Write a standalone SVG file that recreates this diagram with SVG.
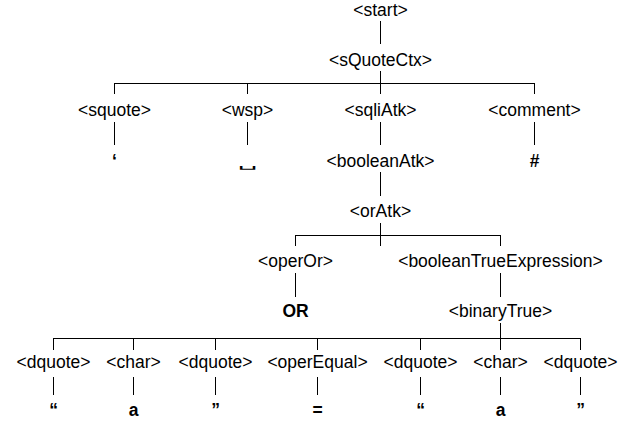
<svg xmlns="http://www.w3.org/2000/svg" width="638" height="422" viewBox="0 0 638 422">
<style>
text{font-family:"Liberation Sans",Arial,Helvetica,sans-serif;font-size:17.5px;text-anchor:middle;fill:#000}
.b{font-weight:bold}
.sym{font-family:"DejaVu Sans","Liberation Sans",sans-serif;font-weight:normal;font-size:30px}
#connectors line{stroke:#000;stroke-width:1;fill:none}
</style>
<rect width="638" height="422" fill="#fff"/>
<g id="connectors">
<line x1="380.5" y1="21" x2="380.5" y2="44"/>
<line x1="380.5" y1="71" x2="380.5" y2="94"/>
<line x1="114.5" y1="83.5" x2="534.5" y2="83.5"/>
<line x1="114.5" y1="83" x2="114.5" y2="94"/>
<line x1="247.5" y1="83" x2="247.5" y2="94"/>
<line x1="534.5" y1="83" x2="534.5" y2="94"/>
<line x1="114.5" y1="122" x2="114.5" y2="145"/>
<line x1="247.5" y1="122" x2="247.5" y2="145"/>
<line x1="380.5" y1="122" x2="380.5" y2="145"/>
<line x1="534.5" y1="122" x2="534.5" y2="145"/>
<line x1="380.5" y1="172" x2="380.5" y2="196"/>
<line x1="380.5" y1="223" x2="380.5" y2="246"/>
<line x1="295.5" y1="235.5" x2="500.5" y2="235.5"/>
<line x1="295.5" y1="235" x2="295.5" y2="246"/>
<line x1="500.5" y1="235" x2="500.5" y2="246"/>
<line x1="295.5" y1="273" x2="295.5" y2="297"/>
<line x1="500.5" y1="273" x2="500.5" y2="297"/>
<line x1="500.5" y1="323" x2="500.5" y2="350"/>
<line x1="53.5" y1="338.5" x2="580.5" y2="338.5"/>
<line x1="53.5" y1="338" x2="53.5" y2="350"/>
<line x1="133.5" y1="338" x2="133.5" y2="350"/>
<line x1="215.5" y1="338" x2="215.5" y2="350"/>
<line x1="317.5" y1="338" x2="317.5" y2="350"/>
<line x1="420.5" y1="338" x2="420.5" y2="350"/>
<line x1="580.5" y1="338" x2="580.5" y2="350"/>
<line x1="53.5" y1="377" x2="53.5" y2="395"/>
<line x1="133.5" y1="377" x2="133.5" y2="395"/>
<line x1="215.5" y1="377" x2="215.5" y2="395"/>
<line x1="317.5" y1="377" x2="317.5" y2="395"/>
<line x1="420.5" y1="377" x2="420.5" y2="395"/>
<line x1="500.5" y1="377" x2="500.5" y2="395"/>
<line x1="580.5" y1="377" x2="580.5" y2="395"/>
</g>
<g id="n-start"><text x="380.5" y="16">&lt;start&gt;</text></g>
<g id="n-sQuoteCtx"><text x="380.5" y="66">&lt;sQuoteCtx&gt;</text></g>
<g id="n-squote"><text x="114.5" y="116">&lt;squote&gt;</text></g>
<g id="n-wsp"><text x="247.5" y="116">&lt;wsp&gt;</text></g>
<g id="n-sqliAtk"><text x="380.5" y="116">&lt;sqliAtk&gt;</text></g>
<g id="n-comment"><text x="534.5" y="116">&lt;comment&gt;</text></g>
<g id="l-squote"><text class="b" x="114.5" y="167">‘</text></g>
<g id="l-wsp"><text class="sym" transform="translate(247,167) scale(1,0.38)" x="0" y="0">␣</text></g>
<g id="n-booleanAtk"><text x="380.5" y="167">&lt;booleanAtk&gt;</text></g>
<g id="l-comment"><text class="b" x="534.5" y="167">#</text></g>
<g id="n-orAtk"><text x="380.5" y="217">&lt;orAtk&gt;</text></g>
<g id="n-operOr"><text x="295.5" y="267">&lt;operOr&gt;</text></g>
<g id="n-booleanTrueExpression"><text x="500.5" y="267">&lt;booleanTrueExpression&gt;</text></g>
<g id="l-OR"><text class="b" x="295.5" y="317">OR</text></g>
<g id="n-binaryTrue"><text x="500.5" y="317">&lt;binaryTrue&gt;</text></g>
<g id="n-dquote1"><text x="53.5" y="368">&lt;dquote&gt;</text></g>
<g id="n-char1"><text x="133.5" y="368">&lt;char&gt;</text></g>
<g id="n-dquote2"><text x="215.5" y="368">&lt;dquote&gt;</text></g>
<g id="n-operEqual"><text x="317.5" y="368">&lt;operEqual&gt;</text></g>
<g id="n-dquote3"><text x="420.5" y="368">&lt;dquote&gt;</text></g>
<g id="n-char2"><text x="500.5" y="368">&lt;char&gt;</text></g>
<g id="n-dquote4"><text x="580.5" y="368">&lt;dquote&gt;</text></g>
<g id="l-dq1"><text class="b" x="53.5" y="416">“</text></g>
<g id="l-a1"><text class="b" x="133.5" y="416">a</text></g>
<g id="l-dq2"><text class="b" x="215.5" y="416">”</text></g>
<g id="l-eq"><text class="b" x="317.5" y="416">=</text></g>
<g id="l-dq3"><text class="b" x="420.5" y="416">“</text></g>
<g id="l-a2"><text class="b" x="500.5" y="416">a</text></g>
<g id="l-dq4"><text class="b" x="580.5" y="416">”</text></g>
</svg>
